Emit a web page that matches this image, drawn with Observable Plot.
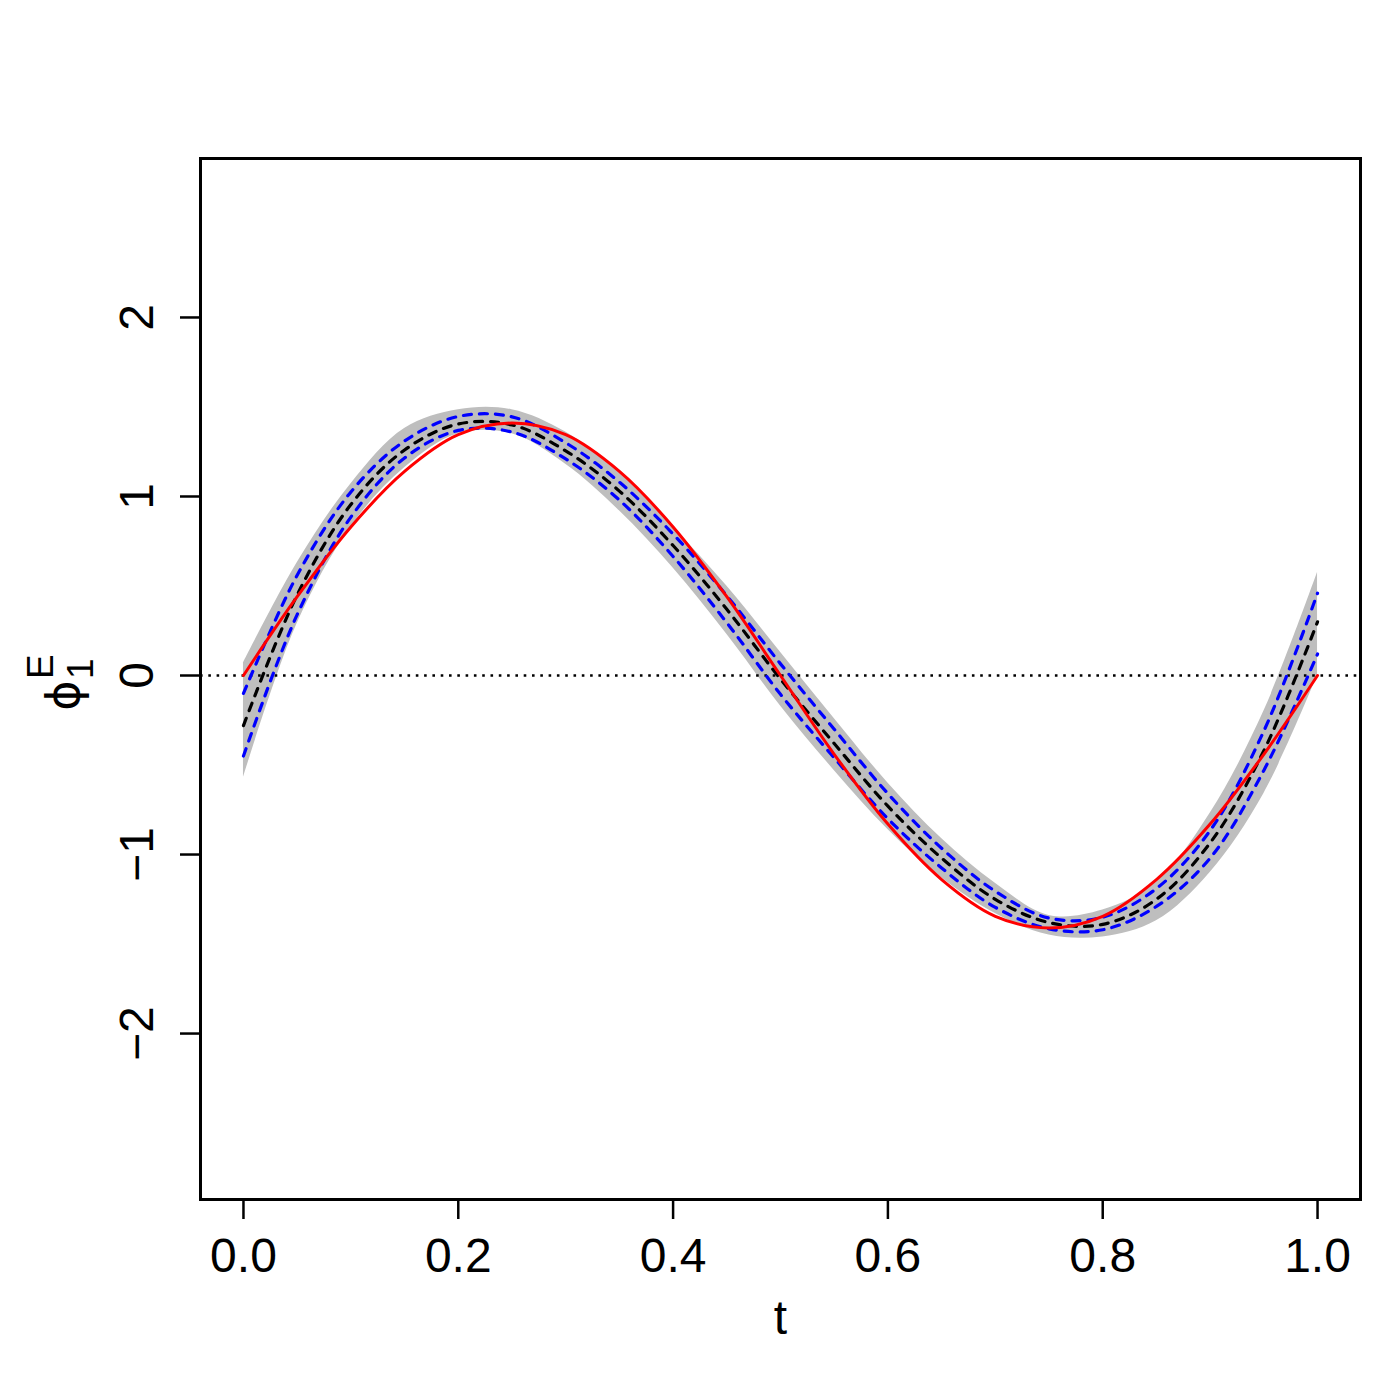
<!DOCTYPE html>
<html>
<head>
<meta charset="utf-8">
<script src="https://cdn.jsdelivr.net/npm/d3@7"></script>
<script src="https://cdn.jsdelivr.net/npm/@observablehq/plot@0.6"></script>
<style>
  html, body { margin: 0; padding: 0; background: #fff; }
  #chart svg { display: block; }
</style>
</head>
<body>
<div id="chart"></div>
<script>
// ---- data ----
const tValues   = [0, 0.05, 0.1, 0.15, 0.2, 0.25, 0.3, 0.35, 0.4, 0.45, 0.5, 0.55, 0.6, 0.65, 0.7, 0.75, 0.8, 0.85, 0.9, 0.95, 1.0];
const trueCurve = [0, 0.44, 0.83, 1.14, 1.345, 1.41, 1.345, 1.14, 0.83, 0.44, 0, -0.44, -0.83, -1.14, -1.345, -1.41, -1.345, -1.14, -0.83, -0.44, 0];
const meanCurve = [-0.28, 0.45, 0.955, 1.26, 1.405, 1.40, 1.255, 1.03, 0.726, 0.37, -0.02, -0.38, -0.73, -1.02, -1.25, -1.38, -1.39, -1.25, -0.935, -0.42, 0.30];
const blueLower = [-0.45, 0.34, 0.885, 1.215, 1.369, 1.36, 1.21, 0.98, 0.665, 0.295, -0.105, -0.46, -0.80, -1.075, -1.295, -1.415, -1.42, -1.29, -1.02, -0.53, 0.12];
const blueUpper = [-0.10, 0.56, 1.025, 1.31, 1.447, 1.445, 1.30, 1.08, 0.79, 0.445, 0.065, -0.30, -0.66, -0.965, -1.205, -1.355, -1.35, -1.19, -0.866, -0.31, 0.46];
const grayLower = [-0.57, 0.29, 0.83, 1.16, 1.35, 1.35, 1.18, 0.92, 0.60, 0.23, -0.17, -0.53, -0.86, -1.13, -1.33, -1.45, -1.46, -1.37, -1.10, -0.66, 0.0];
const grayUpper = [0.07, 0.63, 1.07, 1.38, 1.485, 1.485, 1.36, 1.135, 0.83, 0.50, 0.13, -0.24, -0.60, -0.91, -1.16, -1.34, -1.31, -1.155, -0.77, -0.20, 0.575];
const xTicks = [0, 0.2, 0.4, 0.6, 0.8, 1.0];
const yTicks = [-2, -1, 0, 1, 2];
const xLabel = "t";

const rows = tValues.map((t, i) => ({
  t, truth: trueCurve[i], mean: meanCurve[i],
  bLo: blueLower[i], bHi: blueUpper[i], gLo: grayLower[i], gHi: grayUpper[i]
}));

const FONT = "'Liberation Sans', Arial, Helvetica, sans-serif";
const curve = "catmull-rom";

const chart = Plot.plot({
  width: 1400,
  height: 1400,
  marginLeft: 200,
  marginRight: 40,
  marginTop: 158,
  marginBottom: 201,
  style: { fontFamily: FONT, background: "#fff", color: "#000" },
  x: { domain: [-0.04, 1.04] },
  y: { domain: [-2.927, 2.888] },
  marks: [
    Plot.areaY(rows, { x: "t", y1: "gLo", y2: "gHi", fill: "#bebebe", curve }),
    Plot.ruleY([0], { stroke: "#000", strokeWidth: 2.6, strokeDasharray: "2.6,5.7" }),
    Plot.line(rows, { x: "t", y: "mean", stroke: "#000", strokeWidth: 3.2, strokeDasharray: "8,8", curve }),
    Plot.line(rows, { x: "t", y: "bLo", stroke: "#0000ff", strokeWidth: 3.2, strokeDasharray: "8,8", curve }),
    Plot.line(rows, { x: "t", y: "bHi", stroke: "#0000ff", strokeWidth: 3.2, strokeDasharray: "8,8", curve }),
    Plot.line(rows, { x: "t", y: "truth", stroke: "#ff0000", strokeWidth: 3, curve }),
    Plot.frame({ stroke: "#000", strokeWidth: 3 }),
    Plot.axisX(xTicks, {
      tickSize: 20, tickPadding: 18, tickFormat: d3.format(".1f"),
      fontSize: 48, strokeWidth: 2.5, label: null
    }),
    Plot.axisY(yTicks, {
      tickSize: 20, tickPadding: 28, tickRotate: -90,
      tickFormat: d => d3.format("d")(d).replace("-", "\u2212"),
      fontSize: 48, strokeWidth: 2.5, label: null
    }),
    Plot.text([xLabel], { text: d => d, frameAnchor: "bottom", dy: 134, lineAnchor: "bottom", fontSize: 48 }),
    Plot.text(["\u03d5"], { text: d => d, frameAnchor: "left", dx: -122, dy: 1.5, rotate: -90, textAnchor: "end", lineAnchor: "bottom", fontSize: 46, fontFamily: "'DejaVu Sans', 'Liberation Sans', sans-serif" }),
    Plot.text(["1"], { text: d => d, frameAnchor: "left", dx: -108, dy: 0, rotate: -90, textAnchor: "start", lineAnchor: "bottom", fontSize: 37 }),
    Plot.text(["E"], { text: d => d, frameAnchor: "left", dx: -148, dy: 0, rotate: -90, textAnchor: "start", lineAnchor: "bottom", fontSize: 37 })
  ]
});

document.getElementById("chart").appendChild(chart);
</script>
</body>
</html>
